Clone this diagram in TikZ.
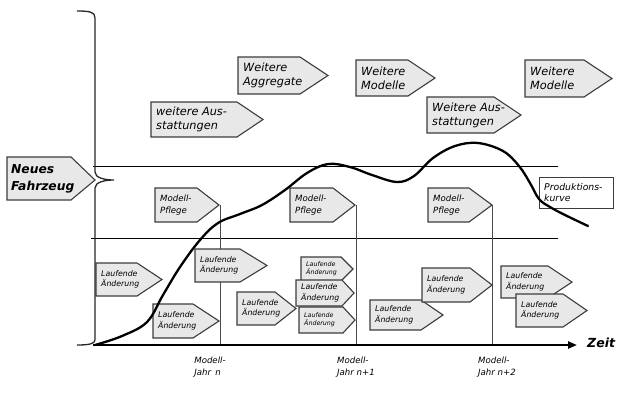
\documentclass[tikz,border=0pt]{standalone}
\usepackage{fontspec}
\setmainfont{DejaVu Sans}
\usetikzlibrary{arrows.meta}
\definecolor{boxfill}{HTML}{E8E8E8}
\definecolor{boxline}{HTML}{3C3C3C}
\tikzset{
  sig/.style={draw=boxline, fill=boxfill, line width=1.1pt, line join=miter},
  txt/.style={anchor=west, align=left, inner sep=0pt},
  bigtxt/.style={txt, font=\fontsize{11.3}{14}\selectfont\itshape},
  midtxt/.style={txt, font=\fontsize{8.6}{11.5}\selectfont\itshape},
  smalltxt/.style={txt, font=\fontsize{7.8}{10.5}\selectfont\itshape},
  tinytxt/.style={txt, font=\fontsize{6.3}{8.5}\selectfont\itshape},
  grid/.style={black, line width=0.8pt},
  yearline/.style={draw=black!70, line width=0.9pt},
  axislabel/.style={align=left, inner sep=0pt, font=\fontsize{8.6}{12}\selectfont\itshape},
}
% arrow box: name, left x, top y, body right x, tip x, bottom y, text style, text
\newcommand\sigbox[8]{%
  \draw[sig] (#2,#3) -- (#4,#3) -- (#5,{(#3+#6)/2}) -- (#4,#6) -- (#2,#6) -- cycle;
  \node[#7] (#1) at ({#2+5},{(#3+#6)/2}) {#8};
}
\begin{document}
\begin{tikzpicture}[x=1pt,y=-1pt]
\useasboundingbox (0,0) rectangle (617,400);

% horizontal band lines
\coordinate (h1l) at (93,166); \coordinate (h1r) at (558,166);
\coordinate (h2l) at (91,238); \coordinate (h2r) at (558,238);
\draw[grid] (h1l) -- (h1r);
\draw[grid] (h2l) -- (h2r);

% model-year lines
\coordinate (y1t) at (220,205); \coordinate (y1b) at (220,345);
\coordinate (y2t) at (356,205); \coordinate (y2b) at (356,345);
\coordinate (y3t) at (492,205); \coordinate (y3b) at (492,345);
\draw[yearline] (y1t) -- (y1b);
\draw[yearline] (y2t) -- (y2b);
\draw[yearline] (y3t) -- (y3b);

% vertical axis drawn as a large brace
\draw[line width=1.3pt, black!85] (77,11) .. controls (90,11) and (95,12) .. (95,18)
  -- (95,172) .. controls (95,178) and (105,180) .. (114,180)
  .. controls (105,180) and (95,182) .. (95,188) -- (95,340)
  .. controls (95,344) and (88,345) .. (77,345);

% time axis
\coordinate (ax0) at (93,345); \coordinate (ax1) at (577,345);
\draw[line width=2.2pt, -{Triangle[length=9pt,width=7pt]}] (ax0) -- (ax1);
\node[font=\fontsize{12.5}{14}\selectfont\bfseries\itshape, anchor=west, inner sep=0pt] (zeit) at (587,343) {Zeit};

% upper arrow boxes
\sigbox{agg}{238}{57}{300}{328}{94}{bigtxt}{Weitere\\Aggregate}
\sigbox{aus1}{151}{102}{237}{263}{137}{bigtxt}{weitere Aus-\\stattungen}
\sigbox{mod1}{356}{60}{408}{435}{96}{bigtxt}{Weitere\\Modelle}
\sigbox{aus2}{427}{97}{494}{521}{133}{bigtxt}{Weitere Aus-\\stattungen}
\sigbox{mod2}{525}{60}{584}{612}{97}{bigtxt}{Weitere\\Modelle}

% new vehicle
\draw[sig] (7,157) -- (71,157) -- (95,180) -- (71,200) -- (7,200) -- cycle;
\node[txt, font=\fontsize{12.3}{17}\selectfont\bfseries\itshape] (neu) at (11,179) {Neues\\Fahrzeug};

% model maintenance
\sigbox{pf1}{155}{188}{197}{219}{222}{midtxt}{Modell-\\Pflege}
\sigbox{pf2}{290}{188}{333}{355}{222}{midtxt}{Modell-\\Pflege}
\sigbox{pf3}{428}{188}{469}{492}{222}{midtxt}{Modell-\\Pflege}

% running changes
\sigbox{la}{96}{263}{137}{162}{296}{smalltxt}{Laufende\\Änderung}
\sigbox{lb}{153}{304}{193}{219}{338}{smalltxt}{Laufende\\Änderung}
\sigbox{lc}{195}{249}{240}{267}{282}{smalltxt}{Laufende\\Änderung}
\sigbox{ld}{237}{292}{275}{296}{325}{smalltxt}{Laufende\\Änderung}
\sigbox{le}{301}{257}{341}{353}{281}{tinytxt}{Laufende\\Änderung}
\sigbox{lg}{299}{307}{343}{355}{333}{tinytxt}{Laufende\\Änderung}
\sigbox{lf}{296}{280}{342}{354}{306}{smalltxt}{Laufende\\Änderung}
\sigbox{lh}{370}{300}{421}{443}{330}{smalltxt}{Laufende\\Änderung}
\sigbox{li}{422}{268}{470}{492}{302}{smalltxt}{Laufende\\Änderung}
\sigbox{lj}{501}{266}{548}{572}{298}{smalltxt}{Laufende\\Änderung}
\sigbox{lk}{516}{294}{563}{587}{327}{smalltxt}{Laufende\\Änderung}

% production curve label
\draw[draw=boxline, fill=white, line width=0.9pt] (539,177) rectangle (613,208);
\node[txt, font=\fontsize{9.3}{11.5}\selectfont\itshape] (pk) at (544,192.5) {Produktions-\\kurve};

% production curve
\draw[line width=2.3pt, line cap=round, line join=round]
  plot[smooth, tension=0.6] coordinates {
  (95,345) (122,336) (147,322) (163,295) (180,267) (200,240) (218,223)
  (240,214) (262,205) (285,190) (307,173) (328,164) (350,167) (372,175)
  (397,182) (414,176) (433,158) (455,146) (478,143) (503,151) (519,166)
  (530,183) (539,199) (550,207) (565,215) (588,226)};

% model-year labels
\node[axislabel] (j1) at (210,367) {Modell-\\Jahr\enspace n};
\node[axislabel] (j2) at (356,367) {Modell-\\Jahr n+1};
\node[axislabel] (j3) at (497,367) {Modell-\\Jahr n+2};
\end{tikzpicture}
\end{document}
